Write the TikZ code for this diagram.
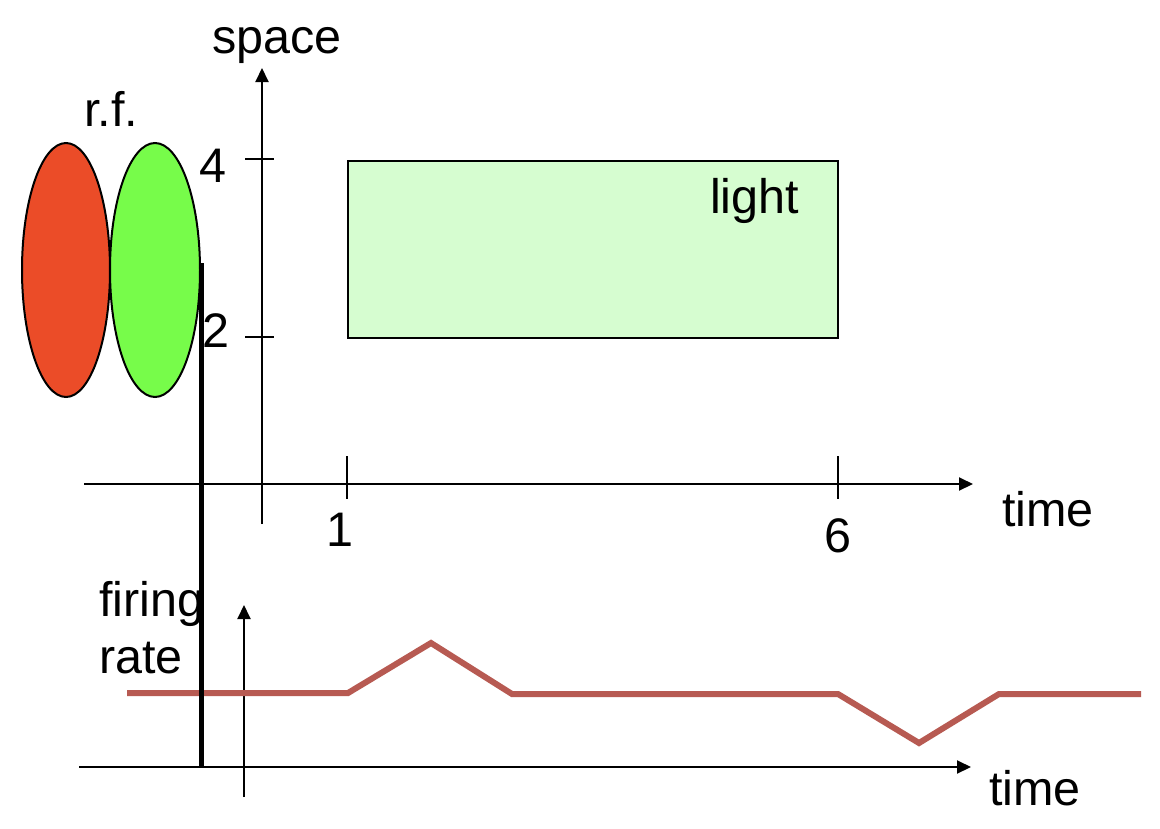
\documentclass[tikz,border=0pt]{standalone}
\usepackage{fontspec}
\setmainfont{Liberation Sans}
\usetikzlibrary{arrows.meta}
\definecolor{rfred}{RGB}{235,76,40}
\definecolor{rfgreen}{RGB}{119,252,74}
\definecolor{lightbox}{RGB}{214,253,208}
\definecolor{ratecol}{RGB}{183,90,82}
\tikzset{
  axisline/.style={line width=2pt,-{Triangle[length=14pt,width=13pt]}},
  tickline/.style={line width=2pt},
  lbl/.style={inner sep=0pt,font=\fontsize{48.5pt}{58pt}\selectfont},
  rfshape/.style={draw=black,line width=2pt},
  rateline/.style={ratecol,line width=6pt,line join=miter},
}
\begin{document}
\begin{tikzpicture}[x=1pt,y=-1pt]
\useasboundingbox (0,0) rectangle (1160,828);
% receptive fields
\draw[rfshape,fill=rfred] (66,270) ellipse [x radius=44, y radius=127];
\draw[rfshape,fill=rfgreen] (155,270) ellipse [x radius=45, y radius=127];
% light box
\node[draw=black,line width=2pt,fill=lightbox,minimum width=490pt,minimum height=177pt,inner sep=0pt,anchor=north west] (box) at (347,160) {};
\node[lbl,anchor=base west] (light) at (710,213) {light};
% upper axes
\coordinate (sbot) at (262,524);
\coordinate (stop) at (262,68);
\coordinate (tleft) at (84,484);
\coordinate (tright) at (973,484);
\draw[axisline] (sbot) -- (stop);
\draw[axisline] (tleft) -- (tright);
\coordinate (t4a) at (245,159); \coordinate (t4b) at (274,159);
\coordinate (t2a) at (245,337); \coordinate (t2b) at (274,337);
\coordinate (t1a) at (347,456); \coordinate (t1b) at (347,499);
\coordinate (t6a) at (838,456); \coordinate (t6b) at (838,499);
\draw[tickline] (t4a) -- (t4b);
\draw[tickline] (t2a) -- (t2b);
\draw[tickline] (t1a) -- (t1b);
\draw[tickline] (t6a) -- (t6b);
\node[lbl,anchor=base west] (space) at (212,53) {space};
\node[lbl,anchor=base west] (rf) at (84,126) {r.f.};
\node[lbl,anchor=base] (four) at (213,182) {4};
\node[lbl,anchor=base] (two) at (216,347) {2};
\node[lbl,anchor=base] (one) at (340,546) {1};
\node[lbl,anchor=base] (six) at (838,552) {6};
\node[lbl,anchor=base west] (time1) at (1002,526) {time};
% lower axes
\node[lbl,anchor=base west] (firing) at (99,616) {firing};
\node[lbl,anchor=base west] (rate) at (99,673) {rate};
\coordinate (fbot) at (244,797);
\coordinate (ftop) at (244,605);
\coordinate (bleft) at (79,767);
\coordinate (bright) at (971,767);
\draw[axisline] (fbot) -- (ftop);
\draw[axisline] (bleft) -- (bright);
\node[lbl,anchor=base west] (time2) at (989,805) {time};
% firing rate trace
\coordinate (r0) at (127,693);
\coordinate (r1) at (348,693);
\coordinate (r2) at (431,643);
\coordinate (r3) at (512,694);
\coordinate (r4) at (838,694);
\coordinate (r5) at (919,743);
\coordinate (r6) at (999,694);
\coordinate (r7) at (1141,694);
\draw[rateline] (r0) -- (r1) -- (r2) -- (r3) -- (r4) -- (r5) -- (r6) -- (r7);
% time marker line
\coordinate (mtop) at (201,263);
\coordinate (mbot) at (201,767);
\draw[line width=5pt] (mtop) -- (mbot);
\end{tikzpicture}
\end{document}
